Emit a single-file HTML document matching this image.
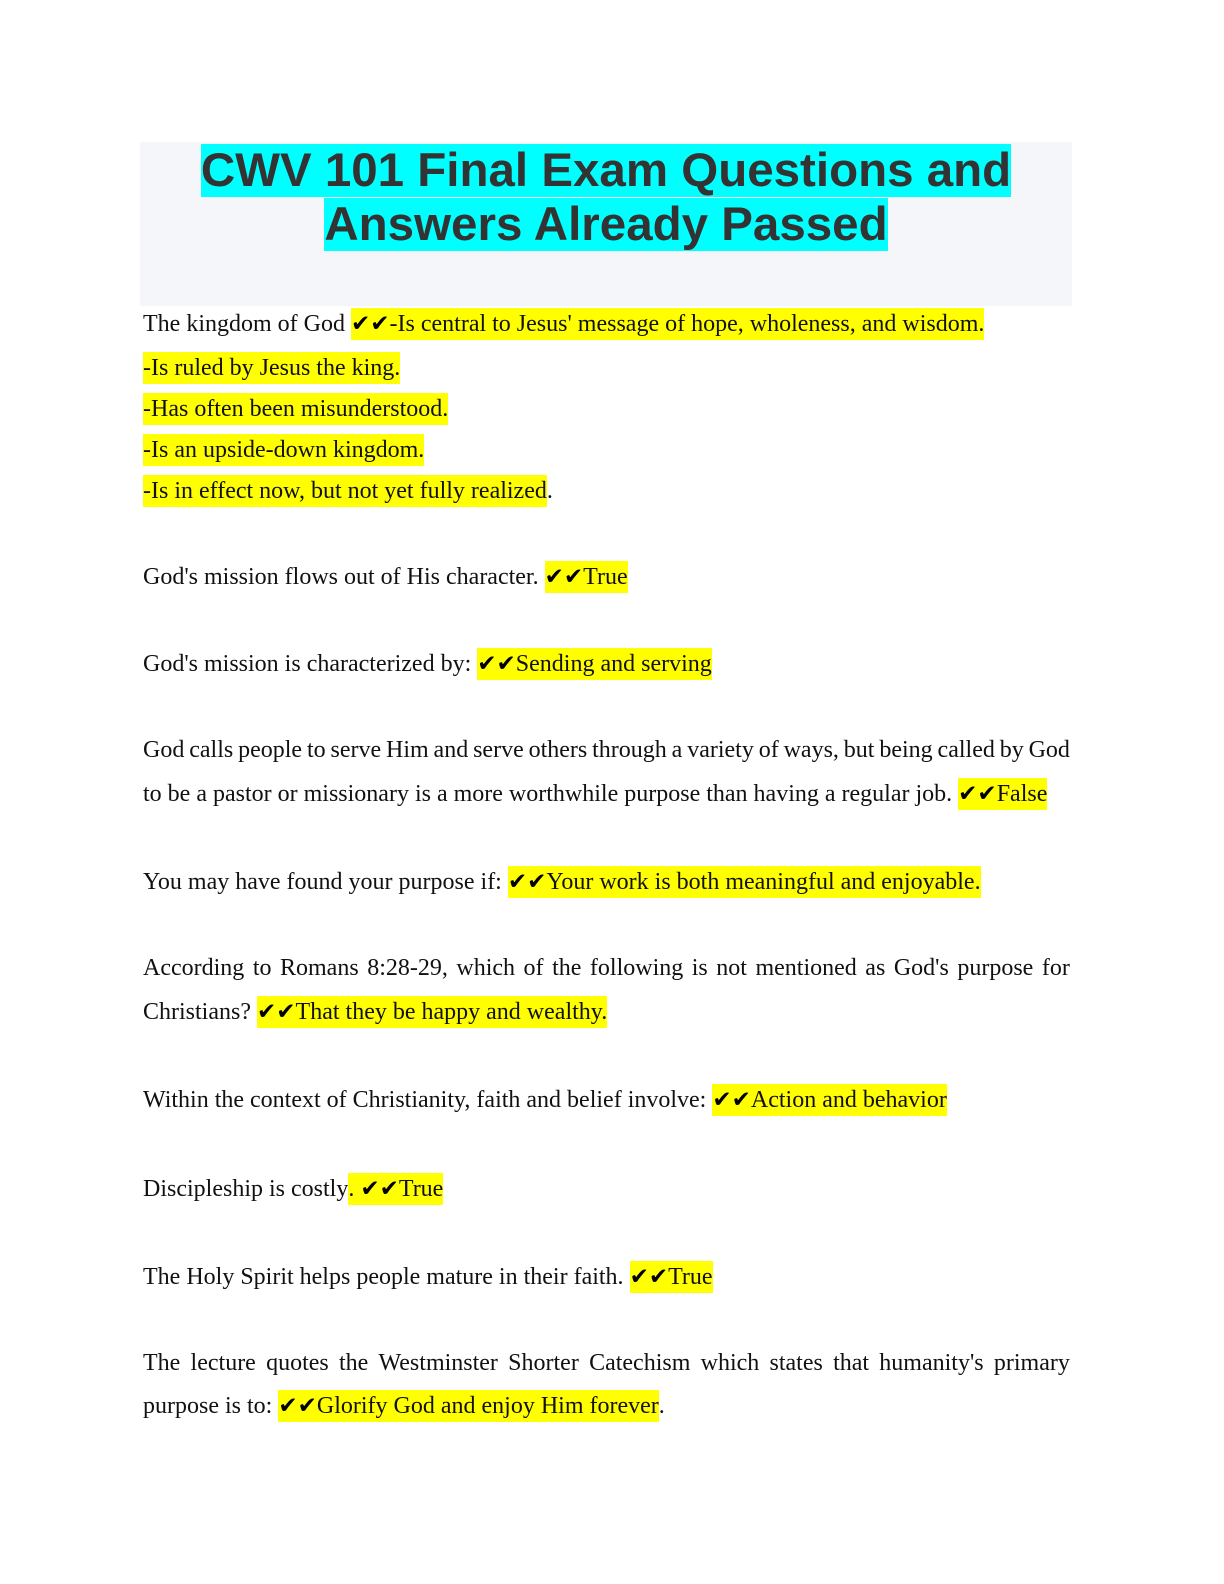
<!DOCTYPE html>
<html><head><meta charset="utf-8"><style>
body{margin:0;width:1224px;height:1584px;background:#fff;position:relative;font-family:"Liberation Serif",serif;font-size:24px;color:#111}
.hdr{position:absolute;left:140px;top:142px;width:932px;height:164px;background:#f5f6fa}
.t{position:absolute;left:140px;width:932px;text-align:center;font-family:"Liberation Sans",sans-serif;font-weight:bold;font-size:47.5px;color:#333;line-height:54px}
.t span{background:#00ffff}
.l{position:absolute;left:143px;line-height:32px;white-space:nowrap}
.h{background:#ffff00;display:inline-block;line-height:32px}
.j{width:927px;display:flex;justify-content:space-between}
.c{font-family:"DejaVu Sans",sans-serif;font-size:23px;color:#000;line-height:24px}
</style></head><body>
<div class="hdr"></div>
<div class="t" style="top:144px"><span>CWV 101 Final Exam Questions and</span></div>
<div class="t" style="top:198px"><span>Answers Already Passed</span></div>

<div class="l" style="top:308px">The kingdom of God <span class="h"><span class="c">✔✔</span>-Is central to Jesus' message of hope, wholeness, and wisdom.</span></div>
<div class="l" style="top:352px"><span class="h">-Is ruled by Jesus the king.</span></div>
<div class="l" style="top:393px"><span class="h">-Has often been misunderstood.</span></div>
<div class="l" style="top:434px"><span class="h">-Is an upside-down kingdom.</span></div>
<div class="l" style="top:475px"><span class="h">-Is in effect now, but not yet fully realized</span>.</div>

<div class="l" style="top:561px">God's mission flows out of His character. <span class="h"><span class="c">✔✔</span>True</span></div>
<div class="l" style="top:648px">God's mission is characterized by: <span class="h"><span class="c">✔✔</span>Sending and serving</span></div>
<div class="l j" style="top:734px"><span>God</span><span>calls</span><span>people</span><span>to</span><span>serve</span><span>Him</span><span>and</span><span>serve</span><span>others</span><span>through</span><span>a</span><span>variety</span><span>of</span><span>ways,</span><span>but</span><span>being</span><span>called</span><span>by</span><span>God</span></div>
<div class="l" style="top:778px">to be a pastor or missionary is a more worthwhile purpose than having a regular job. <span class="h"><span class="c">✔✔</span>False</span></div>
<div class="l" style="top:866px">You may have found your purpose if: <span class="h"><span class="c">✔✔</span>Your work is both meaningful and enjoyable.</span></div>
<div class="l j" style="top:952px"><span>According</span><span>to</span><span>Romans</span><span>8:28-29,</span><span>which</span><span>of</span><span>the</span><span>following</span><span>is</span><span>not</span><span>mentioned</span><span>as</span><span>God's</span><span>purpose</span><span>for</span></div>
<div class="l" style="top:996px">Christians? <span class="h"><span class="c">✔✔</span>That they be happy and wealthy.</span></div>
<div class="l" style="top:1084px">Within the context of Christianity, faith and belief involve: <span class="h"><span class="c">✔✔</span>Action and behavior</span></div>
<div class="l" style="top:1173px">Discipleship is costly<span class="h">. <span class="c">✔✔</span>True</span></div>
<div class="l" style="top:1261px">The Holy Spirit helps people mature in their faith. <span class="h"><span class="c">✔✔</span>True</span></div>
<div class="l j" style="top:1347px"><span>The</span><span>lecture</span><span>quotes</span><span>the</span><span>Westminster</span><span>Shorter</span><span>Catechism</span><span>which</span><span>states</span><span>that</span><span>humanity's</span><span>primary</span></div>
<div class="l" style="top:1390px">purpose is to: <span class="h"><span class="c">✔✔</span>Glorify God and enjoy Him forever</span>.</div>
</body></html>
